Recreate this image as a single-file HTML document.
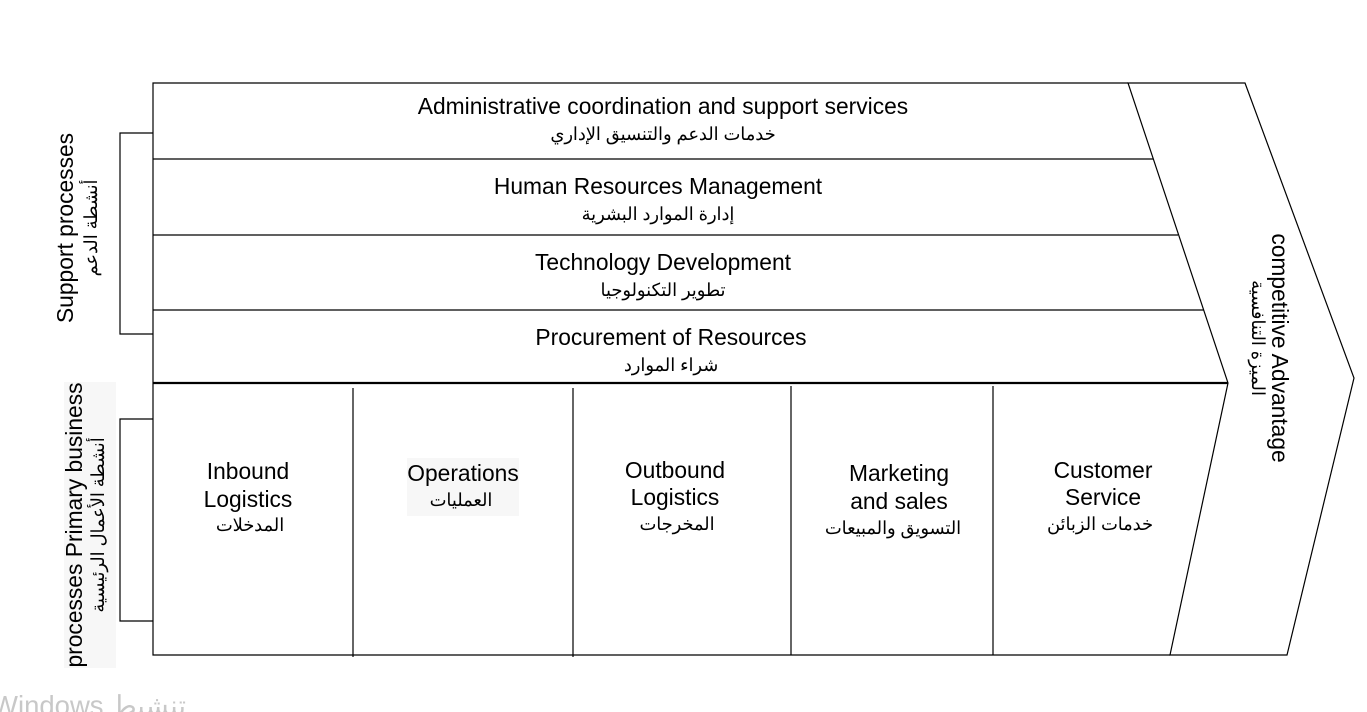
<!DOCTYPE html>
<html><head><meta charset="utf-8"><style>
html,body{margin:0;padding:0;background:#fff;width:1367px;height:712px;overflow:hidden}
svg{display:block}
text{font-family:"Liberation Sans","Noto Sans CJK SC",sans-serif;fill:#000}
.en{font-size:22.8px}
.ar{font-size:17.8px}
</style></head><body>
<svg width="1367" height="712" viewBox="0 0 1367 712">
<g stroke="#000" stroke-width="1.2" fill="none">
  <polyline points="1128,83 153,83 153,655 1170,655"/>
  <polygon points="1128,83 1245,83 1354,378 1287,655 1170,655 1228,383"/>
  <line x1="153" y1="159" x2="1153" y2="159"/>
  <line x1="153" y1="235" x2="1178" y2="235"/>
  <line x1="153" y1="310" x2="1204" y2="310"/>
  <line x1="153" y1="383" x2="1228" y2="383" stroke-width="2.2"/>
  <line x1="353" y1="388" x2="353" y2="657"/>
  <line x1="573" y1="388" x2="573" y2="657"/>
  <line x1="791" y1="386" x2="791" y2="655"/>
  <line x1="993" y1="386" x2="993" y2="655"/>
  <polyline points="153,133 120,133 120,334 153,334"/>
  <polyline points="153,419 120,419 120,621 153,621"/>
</g>
<rect x="407" y="458" width="112" height="58" fill="#f7f7f7"/>
<rect x="64" y="382" width="52" height="286" fill="#f7f7f7"/>
<g text-anchor="middle">
  <text class="en" x="663" y="114">Administrative coordination and support services</text>
  <text class="ar" x="663" y="140">خدمات الدعم والتنسيق الإداري</text>
  <text class="en" x="658" y="194">Human Resources Management</text>
  <text class="ar" x="658" y="220">إدارة الموارد البشرية</text>
  <text class="en" x="663" y="270">Technology Development</text>
  <text class="ar" x="663" y="296">تطوير التكنولوجيا</text>
  <text class="en" x="671" y="345">Procurement of Resources</text>
  <text class="ar" x="671" y="371">شراء الموارد</text>

  <text class="en" x="248" y="479">Inbound</text>
  <text class="en" x="248" y="507">Logistics</text>
  <text class="ar" x="250" y="531">المدخلات</text>
  <text class="en" x="463" y="481">Operations</text>
  <text class="ar" x="461" y="506">العمليات</text>
  <text class="en" x="675" y="478">Outbound</text>
  <text class="en" x="675" y="505">Logistics</text>
  <text class="ar" x="677" y="530">المخرجات</text>
  <text class="en" x="899" y="481">Marketing</text>
  <text class="en" x="899" y="509">and sales</text>
  <text class="ar" x="893" y="534">التسويق والمبيعات</text>
  <text class="en" x="1103" y="478">Customer</text>
  <text class="en" x="1103" y="505">Service</text>
  <text class="ar" x="1100" y="530">خدمات الزبائن</text>

  <g transform="translate(73,228) rotate(-90)">
    <text class="en" x="0" y="0">Support processes</text>
    <text class="ar" x="0" y="24">أنشطة الدعم</text>
  </g>
  <g transform="translate(82,525) rotate(-90)">
    <text class="en" x="0" y="0">processes Primary business</text>
    <text class="ar" x="0" y="22">أنشطة الأعمال الرئيسية</text>
  </g>
  <g transform="translate(1272,348) rotate(90)">
    <text class="en" x="0" y="0">competitive Advantage</text>
    <text class="ar" x="-10" y="20">الميزة التنافسية</text>
  </g>
</g>
<text x="-8" y="715" style="font-size:27.5px;fill:#c8c8c8">Windows تنشيط</text>
</svg>
</body></html>
